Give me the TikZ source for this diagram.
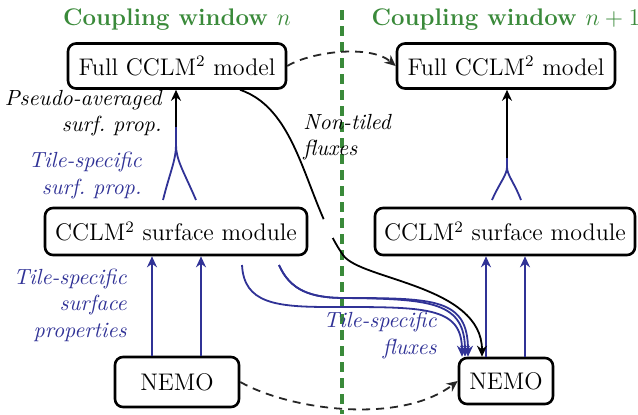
\documentclass[tikz,border=0pt]{standalone}
\usetikzlibrary{arrows.meta}
\definecolor{cwgreen}{RGB}{58,138,58}
\definecolor{tileblue}{RGB}{48,50,150}
\begin{document}
\begin{tikzpicture}[x=0.5pt,y=-0.5pt,
  box/.style={draw=black,line width=1.3pt,rounded corners=4pt,fill=white,inner sep=0pt,font=\large},
  lab/.style={font=\fontsize{10.95}{13.2}\selectfont\itshape,align=right,inner sep=0pt},
  bluelab/.style={lab,text=tileblue},
  title/.style={font=\large\bfseries,text=cwgreen,inner sep=0pt},
  arr/.style={-{Stealth[length=5.5pt,width=5pt]},line width=0.9pt},
  bluearr/.style={arr,draw=tileblue},
  fork/.style={draw=tileblue,line width=0.9pt},
  dasharr/.style={arr,dashed,dash pattern=on 4pt off 3pt,draw=black!85}]
\useasboundingbox (0,0) rectangle (638,414);
% separator
\draw[cwgreen,line width=2pt,dash pattern=on 5pt off 3pt] (342,10) coordinate (sepTop) -- (342,414) coordinate (sepBot);
% titles
\node[title] (t1) at (177,20) {Coupling window $n$};
\node[title] (t2) at (506,20) {Coupling window $n+1$};
% boxes
\node[box,minimum width=109pt,minimum height=22.5pt] (full1) at (177,66) {Full CCLM$^2$ model};
\node[box,minimum width=109pt,minimum height=22.5pt] (full2) at (506,66) {Full CCLM$^2$ model};
\node[box,minimum width=131pt,minimum height=23.5pt] (surf1) at (176,231.5) {CCLM$^2$ surface module};
\node[box,minimum width=130pt,minimum height=23.5pt] (surf2) at (505,231.5) {CCLM$^2$ surface module};
\node[box,minimum width=62pt,minimum height=25pt] (nemo1) at (177,382) {NEMO};
\node[box,minimum width=47pt,minimum height=23pt] (nemo2) at (506,381) {NEMO};
% labels
\node[lab,anchor=east] (pa) at (162,113) {Pseudo-averaged\\surf.\ prop.};
\node[bluelab,anchor=east] (ts1) at (142,175.5) {Tile-specific\\surf.\ prop.};
\node[bluelab,anchor=east] (ts2) at (127,305) {Tile-specific\\surface\\properties};
\node[lab,anchor=west,align=left] (nt) at (303,137) {Non-tiled\\fluxes};
\node[bluelab,anchor=east] (tf) at (437,335.5) {Tile-specific\\fluxes};
% forks, window n
\coordinate (f1) at (176,127);
\coordinate (f1a) at (163,200);
\coordinate (f1b) at (196,200);
\draw[fork] (f1a) .. controls (170,172) and (176,160) .. (176,145) -- (f1);
\draw[fork] (f1b) .. controls (184,172) and (176,160) .. (176,145) -- (f1);
\draw[arr] (f1) -- (f1 |- full1.south);
% forks, window n+1
\coordinate (f2) at (507,158);
\coordinate (f2a) at (492,200);
\coordinate (f2b) at (521,200);
\draw[fork] (f2a) .. controls (500,182) and (507,175) .. (507,167) -- (f2);
\draw[fork] (f2b) .. controls (514,182) and (507,175) .. (507,167) -- (f2);
\draw[arr] (f2) -- (f2 |- full2.south);
% NEMO -> surface
\draw[bluearr] (nemo1.north -| 152,0) -- (surf1.south -| 152,0);
\draw[bluearr] (nemo1.north -| 201,0) -- (surf1.south -| 201,0);
\draw[bluearr] (nemo2.north -| 486,0) -- (surf2.south -| 486,0);
\draw[bluearr] (nemo2.north -| 525,0) -- (surf2.south -| 525,0);
% tile-specific fluxes
\coordinate (sA) at (242,265);
\coordinate (sB) at (279,265);
\draw[bluearr] (sA) .. controls (244,303) and (275,307) .. (330,307) .. controls (425,307) and (462,306) .. (nemo2.north -| 462,0);
\draw[bluearr] (sB) .. controls (290,290) and (310,298) .. (345,298) .. controls (432,299) and (465,302) .. (nemo2.north -| 465,0);
\draw[bluearr] (sB) .. controls (290,290) and (310,298) .. (345,298) .. controls (436,298) and (468,299) .. (nemo2.north -| 468,0);
% non-tiled fluxes
\draw[arr] (full1.south -| 240,0) .. controls (300,110) and (305,200) .. (343,255) .. controls (360,280) and (482,285) .. (nemo2.north -| 482,0);
\fill[white] (315,224) -- (326,218) -- (336,236) -- (325,242) -- cycle;
% dashed transitions
\draw[dasharr] (full1.east) .. controls (310,52) and (370,44) .. (full2.west);
\draw[dasharr] (nemo1.east) .. controls (290,410) and (400,425) .. (nemo2.west);
\end{tikzpicture}
\end{document}
